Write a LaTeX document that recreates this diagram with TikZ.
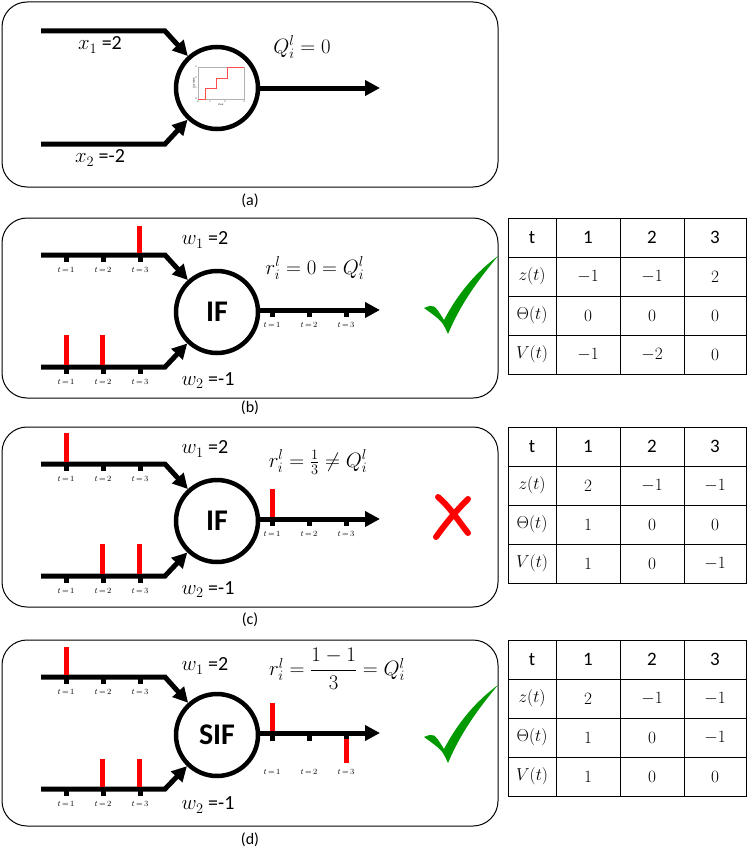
\documentclass[tikz,border=0pt]{standalone}
\usepackage{fontspec}
\setmainfont{Carlito}
\usetikzlibrary{arrows.meta}
\tikzset{
 wire/.style={line width=5pt,-{Triangle[length=15pt,width=15pt]}},
 panelbox/.style={draw,line width=1pt,rounded corners=25pt},
 neur/.style={circle,draw,line width=4.5pt,minimum size=82pt,inner sep=0pt,font=\fontsize{30}{30}\selectfont\bfseries},
 tlab/.style={font=\fontsize{8}{8}\selectfont,inner sep=0pt},
 lab/.style={font=\fontsize{20}{22}\selectfont,inner sep=0pt},
 spk/.style={fill=red,draw=none},
 cell/.style={font=\fontsize{19}{20}\selectfont}
}
\newcommand\ticks[2]{% xstart, y
 \foreach \k in {0,1,2}{
  \pgfmathsetmacro\xx{#1+37*\k}
  \fill (\xx-2.5,#2) rectangle (\xx+2.5,#2+7);
  \pgfmathtruncatemacro\kk{\k+1}
  \node[tlab] at (\xx,#2+15) {$t\,{=}\,\kk$};}}
\newcommand\panel[3]{% yoff, name, label
 \begin{scope}[yshift=-#1pt]
  \draw[panelbox] (2,0) rectangle (498,180);
  \node[neur] (#2) at (217,94) {#3};
  \coordinate (#2a) at (41,37); \coordinate (#2b) at (165,37);
  \coordinate (#2c) at (41,149); \coordinate (#2d) at (165,149);
  \coordinate (#2o) at (380,92);
  \draw[wire] (#2a) -- (#2b) -- (#2);
  \draw[wire] (#2c) -- (#2d) -- (#2);
  \draw[wire] (#2.east |- #2o) -- (#2o);
  \ticks{66}{37}\ticks{66}{149}\ticks{272}{92}
 \end{scope}}
\newcommand\ttable[1]{% yoff
 \begin{scope}[yshift=-#1pt]
  \draw[line width=0.8pt] (508,0) rectangle (746,156);
  \foreach \yy in {39,78,117} \draw[line width=0.8pt] (508,\yy) -- (746,\yy);
  \foreach \xx in {556,620,684} \draw[line width=0.8pt] (\xx,0) -- (\xx,156);
  \node[cell] at (532,19.5) {t}; \node[cell] at (588,19.5) {1};
  \node[cell] at (652,19.5) {2}; \node[cell] at (715,19.5) {3};
  \node[cell] at (532,58.5) {$z(t)$};
  \node[cell] at (532,97.5) {$\Theta(t)$};
  \node[cell] at (532,136.5) {$V(t)$};
 \end{scope}}
\newcommand\trow[5]{\node[cell] at (588,#1+#2) {$#3$};\node[cell] at (652,#1+#2) {$#4$};\node[cell] at (715,#1+#2) {$#5$};}
\newcommand\greencheck[2]{\fill[green!60!black] (#1-38,#2+2) .. controls (#1-28,#2-2) .. (#1-18,#2+14) .. controls (#1,#2-20) and (#1+20,#2-38) .. (#1+36,#2-50) .. controls (#1+18,#2-28) and (#1,#2-5) .. (#1-14,#2+28) .. controls (#1-20,#2+15) .. (#1-38,#2+2) -- cycle;}
\begin{document}
\begin{tikzpicture}[x=1pt,y=-1pt]
\useasboundingbox (0,0) rectangle (748,867);
% (a)
\draw[panelbox] (2,2) rectangle (498,187);
\node[neur] (na) at (217,88) {};
\coordinate (naa) at (41,31); \coordinate (nab) at (165,31);
\coordinate (nac) at (41,144); \coordinate (nad) at (165,144);
\coordinate (nao) at (380,88);
\draw[wire] (naa) -- (nab) -- (na);
\draw[wire] (nac) -- (nad) -- (na);
\draw[wire] (na.east |- nao) -- (nao);
\begin{scope}[shift={(217,88)}]
 \draw[gray!60,line width=0.4pt] (-19,-21) rectangle (27,11);
 \draw[red!70,line width=0.6pt] (-19,11) -- (-12,11) -- (-12,0) -- (-1,0) -- (-1,-10) -- (10,-10) -- (10,-21) -- (27,-21);
 \node[font=\fontsize{2.5}{3}\selectfont,rotate=90] at (-23,-5) {Quantized};
 \node[font=\fontsize{2.5}{3}\selectfont] at (4,17) {Float};
 \foreach \v/\yy in {0/11,1/0,2/-10,3/-21} \node[font=\fontsize{2.5}{3}\selectfont] at (-21,\yy) {\v};
 \foreach \v/\xx in {0/-19,1/-7,2/8,3/27} \node[font=\fontsize{2.5}{3}\selectfont] at (\xx,13.5) {\v};
\end{scope}
\node[lab] at (100,45) {$x_1$ =2};
\node[lab] at (100,158) {$x_2$ =-2};
\node[lab] at (302,47) {$Q_i^l = 0$};
\node[font=\fontsize{16}{16}\selectfont] at (250,201) {(a)};
% (b)
\panel{218}{nb}{IF}
\begin{scope}[yshift=-218pt]
 \fill[spk] (136.5,8) rectangle (141.5,35);
 \fill[spk] (63.5,117) rectangle (68.5,147);
 \fill[spk] (99.5,117) rectangle (104.5,147);
 \node[lab] at (205,22) {$w_1$ =2};
 \node[lab] at (208,163) {$w_2$ =-1};
 \node[lab] at (315,50) {$r_i^l = 0 = Q_i^l$};
 \greencheck{462}{88}
 \node[font=\fontsize{16}{16}\selectfont] at (250,190) {(b)};
\end{scope}
\ttable{218}
\trow{218}{58.5}{-1}{-1}{2}\trow{218}{97.5}{0}{0}{0}\trow{218}{136.5}{-1}{-2}{0}
% (c)
\panel{427}{nc}{IF}
\begin{scope}[yshift=-427pt]
 \fill[spk] (63.5,6) rectangle (68.5,35);
 \fill[spk] (99.5,117) rectangle (104.5,147);
 \fill[spk] (136.5,117) rectangle (141.5,147);
 \fill[spk] (269.5,62) rectangle (274.5,90);
 \node[lab] at (205,22) {$w_1$ =2};
 \node[lab] at (208,163) {$w_2$ =-1};
 \node[lab] at (318,35) {$r_i^l = \frac{1}{3} \neq Q_i^l$};
 \draw[red,line width=6pt,line cap=round] (438,70) .. controls (450,80) and (460,96) .. (468,106);
 \draw[red,line width=6pt,line cap=round] (468,72) .. controls (456,84) and (446,96) .. (436,110);
 \node[font=\fontsize{16}{16}\selectfont] at (250,193) {(c)};
\end{scope}
\ttable{427}
\trow{427}{58.5}{2}{-1}{-1}\trow{427}{97.5}{1}{0}{0}\trow{427}{136.5}{1}{0}{-1}
% (d)
\begin{scope}[yshift=-640pt]
  \draw[panelbox] (2,0) rectangle (498,186);
  \node[neur] (nd) at (217,95) {SIF};
  \coordinate (nda) at (41,37); \coordinate (ndb) at (165,37);
  \coordinate (ndc) at (41,149); \coordinate (ndd) at (165,149);
  \coordinate (ndo) at (380,93);
  \draw[wire] (nda) -- (ndb) -- (nd);
  \draw[wire] (ndc) -- (ndd) -- (nd);
  \draw[wire] (nd.east |- ndo) -- (ndo);
  \ticks{66}{37}\ticks{66}{149}
  \foreach \k in {0,1,2}{\pgfmathsetmacro\xx{272+37*\k}\fill (\xx-2.5,93) rectangle (\xx+2.5,101);}
  \node[tlab] at (272,132) {$t\,{=}\,1$};\node[tlab] at (309,132) {$t\,{=}\,2$};\node[tlab] at (346,132) {$t\,{=}\,3$};
 \fill[spk] (63.5,7) rectangle (68.5,35);
 \fill[spk] (99.5,119) rectangle (104.5,147);
 \fill[spk] (136.5,119) rectangle (141.5,147);
 \fill[spk] (269.5,63) rectangle (274.5,91);
 \fill[spk] (343.5,99) rectangle (348.5,123);
 \node[lab] at (205,26) {$w_1$ =2};
 \node[lab] at (208,165) {$w_2$ =-1};
 \node[lab] at (337,29) {$r_i^l = {\displaystyle\frac{1-1}{3}} = Q_i^l$};
 \greencheck{462}{95}
 \node[font=\fontsize{16}{16}\selectfont] at (250,200) {(d)};
\end{scope}
\ttable{640}
\trow{640}{58.5}{2}{-1}{-1}\trow{640}{97.5}{1}{0}{-1}\trow{640}{136.5}{1}{0}{0}
\end{tikzpicture}
\end{document}
